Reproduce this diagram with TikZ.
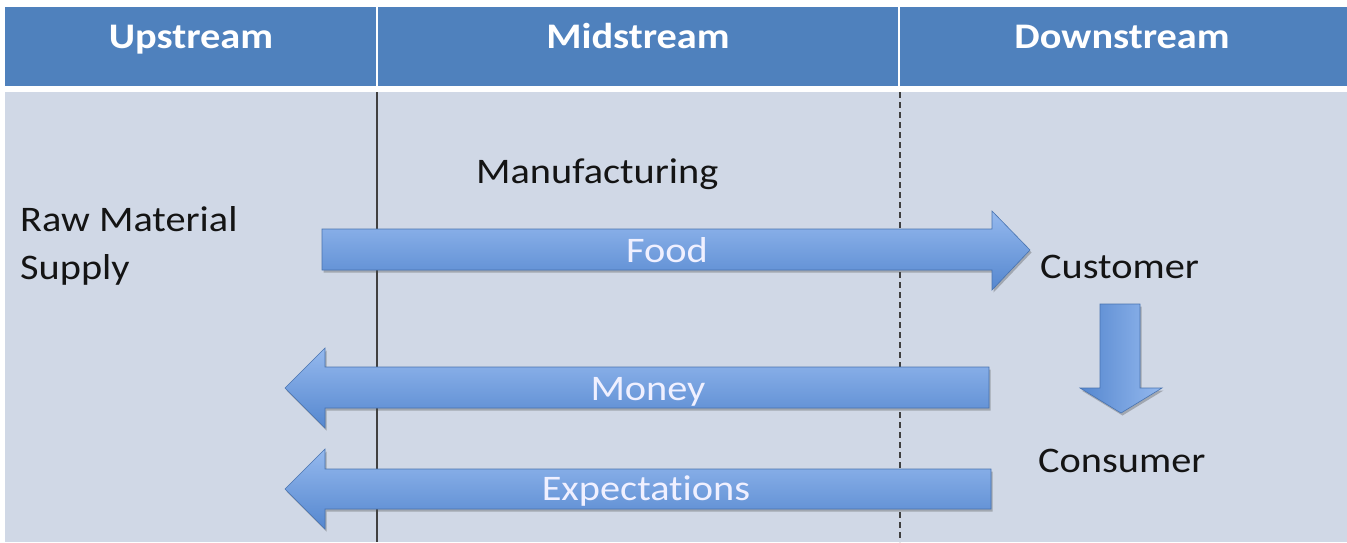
\documentclass[tikz,border=0pt]{standalone}
\usepackage{fontspec}
\setmainfont{Carlito}[FakeStretch=1.12,Ligatures=NoCommon]
\usetikzlibrary{shadows}
\definecolor{hdr}{HTML}{4F81BD}
\definecolor{bodybg}{HTML}{D0D8E6}
\definecolor{arrtop}{HTML}{95B9EE}
\definecolor{arrbot}{HTML}{5587CF}
\definecolor{txt}{HTML}{141414}
\tikzset{
  hdrtext/.style={text=white,font=\fontsize{36}{43}\selectfont\bfseries,anchor=base,inner sep=0pt},
  bodytext/.style={text=txt,font=\fontsize{36}{43}\selectfont,anchor=base west,inner sep=0pt},
  arrtext/.style={text=white!94!blue,font=\fontsize{36}{43}\selectfont,anchor=base,inner sep=0pt},
  flowarrow/.style={top color=arrtop,bottom color=arrbot,draw=arrbot!85!black,line width=0.6pt,
     drop shadow={shadow xshift=1.5pt,shadow yshift=-2.5pt,opacity=0.35,fill=black!70}},
  downarrow/.style={left color=arrbot,right color=arrtop,draw=arrbot!85!black,line width=0.6pt,
     drop shadow={shadow xshift=1.5pt,shadow yshift=-2.5pt,opacity=0.35,fill=black!70}},
  colline/.style={draw=black!75,line width=1.6pt},
  coldash/.style={draw=black!75,line width=1.6pt,dash pattern=on 6pt off 4pt}
}
\begin{document}
\begin{tikzpicture}[x=1pt,y=-1pt]
\useasboundingbox (0,0) rectangle (1347,542);
\fill[white] (0,0) rectangle (1347,542);
% header and body
\fill[hdr] (5,7) rectangle (1347,86);
\fill[bodybg] (5,92) rectangle (1347,542);
\draw[white,line width=2pt] (377,7) -- (377,86);
\draw[white,line width=2pt] (899,7) -- (899,86);
\node[hdrtext] (up) at (191,48) {Upstream};
\node[hdrtext] (mid) at (638,48) {Midstream};
\node[hdrtext] (down) at (1122,48) {Downstream};
% column lines
\coordinate (s1) at (377,92); \coordinate (s2) at (377,542);
\coordinate (d1) at (900,92); \coordinate (d2) at (900,542);
\draw[colline] (s1) -- (s2);
\draw[coldash] (d1) -- (d2);
% labels
\node[bodytext] (manu) at (476,183) {Manufacturing};
\node[bodytext] (raw) at (20,231) {Raw Material};
\node[bodytext] (supply) at (20,279) {Supply};
\node[bodytext] (cust) at (1040,278) {Customer};
\node[bodytext] (cons) at (1038,472) {Consumer};
% arrows
\path[flowarrow] (322,229) -- (992,229) -- (992,211) -- (1030,250) -- (992,290) -- (992,270) -- (322,270) -- cycle;
\path[flowarrow] (989,367) -- (325,367) -- (325,348) -- (285,388) -- (325,428) -- (325,408) -- (989,408) -- cycle;
\path[flowarrow] (991,469) -- (325,469) -- (325,449) -- (285,489) -- (325,529) -- (325,509) -- (991,509) -- cycle;
\path[downarrow] (1100,304) -- (1140,304) -- (1140,388) -- (1162,388) -- (1121,413) -- (1080,388) -- (1100,388) -- cycle;
\node[arrtext] (food) at (667,262) {Food};
\node[arrtext] (money) at (648,400) {Money};
\node[arrtext] (exp) at (646,500) {Expectat\kern0pt{}ions};
\end{tikzpicture}
\end{document}
